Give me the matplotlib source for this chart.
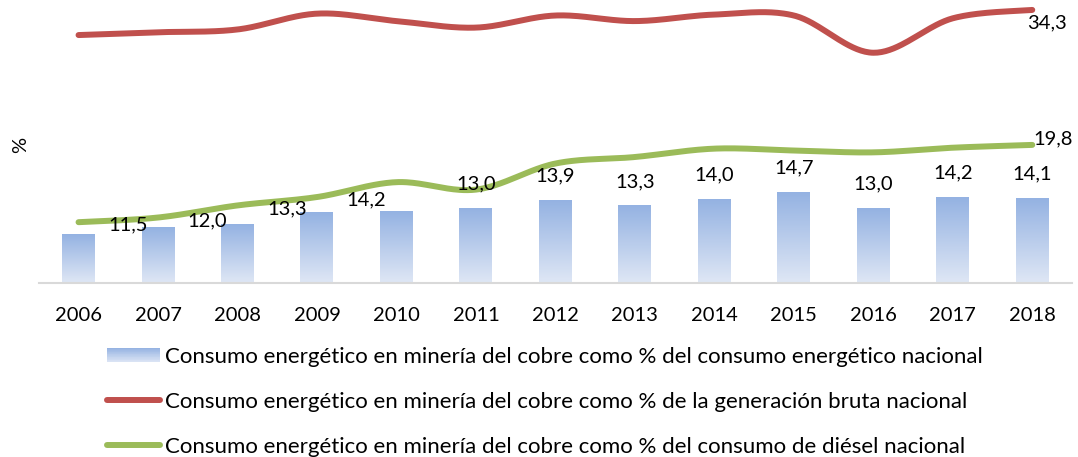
import numpy as np
import matplotlib
matplotlib.use("Agg")
import matplotlib.pyplot as plt
from matplotlib.patches import Rectangle
from matplotlib.lines import Line2D
from matplotlib.legend_handler import HandlerBase
from matplotlib.colors import LinearSegmentedColormap

plt.rcParams['font.family'] = ['Lato', 'DejaVu Sans']

# datos (%)
years = ['2006', '2007', '2008', '2009', '2010', '2011', '2012',
         '2013', '2014', '2015', '2016', '2017', '2018']
energia = [10.2, 11.0, 11.3, 12.6, 12.7, 13.0, 13.9, 13.3, 14.0, 14.7, 13.0, 14.2, 14.1]
generacion = [31.6, 31.9, 32.2, 33.9, 33.1, 32.4, 33.7, 33.1, 33.8, 33.7, 29.7, 33.4, 34.3]
diesel = [11.5, 12.0, 13.3, 14.2, 15.8, 15.0, 17.8, 18.5, 19.4, 19.2, 19.0, 19.5, 19.8]

# que etiquetas se ven en el original
energia_lab = [5, 6, 7, 8, 9, 10, 11, 12]
diesel_lab = [0, 1, 2, 3]

legend_txt = [
    'Consumo energético en minería del cobre como % del consumo energético nacional',
    'Consumo energético en minería del cobre como % de la generación bruta nacional',
    'Consumo energético en minería del cobre como % del consumo de diésel nacional',
]

RED = '#c0504d'
GREEN = '#9bbb59'
FS = 14.5
LEG_FS = 16
W, H = 1078, 457
cmap = LinearSegmentedColormap.from_list('barra', ['#dfe7f5', '#94b2e2'])


def fmt(v):
    return f"{v:.1f}".replace('.', ',')


def smooth(xs, ys, n=40):
    # catmull-rom, parecido al suavizado de excel
    p = np.column_stack([xs, ys]).astype(float)
    out = []
    for i in range(len(p) - 1):
        p0 = p[max(i - 1, 0)]
        p1 = p[i]
        p2 = p[i + 1]
        p3 = p[min(i + 2, len(p) - 1)]
        t = np.linspace(0, 1, n)[:, None]
        seg = 0.5 * ((2 * p1) + (-p0 + p2) * t + (2 * p0 - 5 * p1 + 4 * p2 - p3) * t ** 2
                     + (-p0 + 3 * p1 - 3 * p2 + p3) * t ** 3)
        out.append(seg if i == 0 else seg[1:])
    out = np.vstack(out)
    return out[:, 0], out[:, 1]


class GradHandler(HandlerBase):
    def create_artists(self, legend, orig_handle, xdescent, ydescent, width, height, fontsize, trans):
        n = 20
        arts = []
        for k in range(n):
            r = Rectangle((-xdescent, -ydescent + height * k / n), width, height / n,
                          facecolor=cmap((k + 0.5) / n), edgecolor='none', transform=trans)
            arts.append(r)
        return arts


fig = plt.figure(figsize=(W / 100, H / 100), dpi=100)
ax = fig.add_axes([38.8 / W, 1 - 282.7 / H, (1072 - 38.8) / W, (282.7 - 3.4) / H])

x = np.arange(len(years))
bw = 0.415
bars = ax.bar(x, energia, width=bw, color='none', edgecolor='none', zorder=1)
grad = np.linspace(0, 1, 256).reshape(-1, 1)
for b, v in zip(bars, energia):
    im = ax.imshow(grad, extent=[b.get_x(), b.get_x() + bw, 5, v], origin='lower',
                   cmap=cmap, aspect='auto', zorder=1)
    im.set_clip_path(b)

gx, gy = smooth(x, generacion)
ax.plot(gx, gy, color=RED, lw=4.3, solid_capstyle='round', zorder=3)
dx, dy = smooth(x, diesel)
ax.plot(dx, dy, color=GREEN, lw=4.3, solid_capstyle='round', zorder=3)

ax.set_xlim(-0.5, len(years) - 0.5)
ax.set_ylim(5, 35)

for i in energia_lab:
    ax.annotate(fmt(energia[i]), (x[i], energia[i]), xytext=(0, 17.3), textcoords='offset points',
                ha='center', va='center', fontsize=FS, zorder=5)
for i in diesel_lab:
    ax.annotate(fmt(diesel[i]), (x[i], diesel[i]), xytext=(35.6, -2.2), textcoords='offset points',
                ha='center', va='center', fontsize=FS, zorder=5)
ax.annotate(fmt(diesel[-1]), (x[-1], diesel[-1]), xytext=(15.1, 4.3), textcoords='offset points',
            ha='center', va='center', fontsize=FS, zorder=5)
ax.annotate(fmt(generacion[-1]), (x[-1], generacion[-1]), xytext=(10.8, -9), textcoords='offset points',
            ha='center', va='center', fontsize=FS, zorder=5)

ax.set_xticks(x)
ax.set_xticklabels(years, fontsize=FS)
ax.tick_params(axis='x', length=0, pad=17.5)
ax.set_yticks([])
for s in ['top', 'right', 'left']:
    ax.spines[s].set_visible(False)
ax.spines['bottom'].set_color('#d9d9d9')
ax.spines['bottom'].set_linewidth(1.5)

fig.text(21 / W, 1 - 145 / H, '%', rotation=90, ha='center', va='center', fontsize=FS)

handles = [Rectangle((0, 0), 1, 1),
           Line2D([], [], color=RED, lw=4.3, solid_capstyle='round'),
           Line2D([], [], color=GREEN, lw=4.3, solid_capstyle='round')]
fig.legend(handles, legend_txt, handler_map={Rectangle: GradHandler()},
           loc='upper left', bbox_to_anchor=(107 / W, 1 - 347 / H), frameon=False,
           fontsize=LEG_FS, handlelength=2.39, handletextpad=0.23, labelspacing=1.12,
           handleheight=0.63, borderpad=0, borderaxespad=0)

fig.savefig('out.png', dpi=100)
